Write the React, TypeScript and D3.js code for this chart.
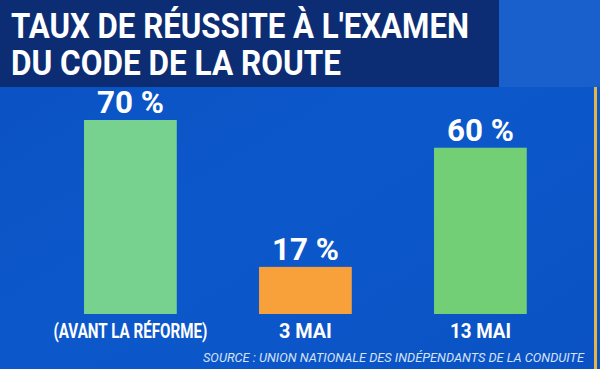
import { useEffect, useRef } from "react";
import * as d3 from "d3";

const categories = ["(AVANT LA RÉFORME)", "3 MAI", "13 MAI"];
const values = [70, 17, 60];
const barColors = ["#78d28f", "#f8a03a", "#72cf76"];
const titleLines = ["TAUX DE RÉUSSITE À L'EXAMEN", "DU CODE DE LA ROUTE"];
const source = "SOURCE : UNION NATIONALE DES INDÉPENDANTS DE LA CONDUITE";

// the original uses a condensed face; squeeze the installed font to the measured widths
const titleWidths = [458, 330];
const catWidths = [154, 53, 61];
const valueWidth = 67;
const sourceWidth = 381;

const App = () => {
  const svgRef = useRef<SVGSVGElement | null>(null);

  useEffect(() => {
    document.body.style.margin = "0";
    drawChart();
  }, []);

  const drawChart = () => {
    const w = 600;
    const h = 369;
    const font = "Roboto, 'Liberation Sans', sans-serif";

    const svg = d3.select(svgRef.current).attr("width", w).attr("height", h);
    svg.selectAll("*").remove();

    // background
    const defs = svg.append("defs");
    const grad = defs
      .append("linearGradient")
      .attr("id", "bg")
      .attr("x1", "0")
      .attr("y1", "0")
      .attr("x2", "1")
      .attr("y2", "1");
    grad.append("stop").attr("offset", "0").attr("stop-color", "#0b51c2");
    grad.append("stop").attr("offset", "0.5").attr("stop-color", "#0c58cb");
    grad.append("stop").attr("offset", "1").attr("stop-color", "#0a52c4");
    svg.append("rect").attr("width", w).attr("height", h).attr("fill", "url(#bg)");

    // lighter strip right of the title
    svg.append("rect").attr("x", 499).attr("y", 0).attr("width", 101).attr("height", 87).attr("fill", "#1a60cc");

    // title box
    svg.append("rect").attr("x", 0).attr("y", 0).attr("width", 499).attr("height", 87).attr("fill", "#0c2d74");
    svg
      .selectAll(".title")
      .data(titleLines)
      .join("text")
      .attr("x", 11)
      .attr("y", (d, i) => 38 + i * 37)
      .attr("fill", "#ffffff")
      .attr("font-family", font)
      .attr("font-weight", "bold")
      .attr("font-size", 35)
      .attr("textLength", (d, i) => titleWidths[i])
      .attr("lengthAdjust", "spacingAndGlyphs")
      .text((d) => d);

    // gold edge on the right
    svg.append("rect").attr("x", 594).attr("y", 87).attr("width", 3).attr("height", h - 87).attr("fill", "#e3b64a");

    // scales
    const xScale = d3
      .scaleBand()
      .domain(categories)
      .range([42.9, 567.9])
      .paddingInner(0.47)
      .paddingOuter(0.235);
    const yScale = d3.scaleLinear().domain([0, 70]).range([314, 120]);

    const data = categories.map((c, i) => ({ cat: c, val: values[i], color: barColors[i], lw: catWidths[i] }));
    const cx = (d: any) => xScale(d.cat)! + xScale.bandwidth() / 2;

    svg
      .selectAll(".bar")
      .data(data)
      .join("rect")
      .attr("x", (d) => xScale(d.cat)!)
      .attr("y", (d) => yScale(d.val))
      .attr("width", xScale.bandwidth())
      .attr("height", (d) => yScale(0) - yScale(d.val))
      .attr("fill", (d) => d.color);

    // value labels
    svg
      .selectAll(".val")
      .data(data)
      .join("text")
      .attr("x", (d) => cx(d) - valueWidth / 2)
      .attr("y", (d) => yScale(d.val) - 7)
      .attr("fill", "#ffffff")
      .attr("font-family", font)
      .attr("font-weight", "bold")
      .attr("font-size", 32)
      .attr("textLength", valueWidth)
      .attr("lengthAdjust", "spacingAndGlyphs")
      .text((d) => `${d.val} %`);

    // category labels
    svg
      .selectAll(".cat")
      .data(data)
      .join("text")
      .attr("x", (d) => cx(d) - d.lw / 2)
      .attr("y", 338)
      .attr("fill", "#ffffff")
      .attr("font-family", font)
      .attr("font-weight", "bold")
      .attr("font-size", 20)
      .attr("textLength", (d) => d.lw)
      .attr("lengthAdjust", "spacingAndGlyphs")
      .text((d) => d.cat);

    // source
    svg
      .append("text")
      .attr("x", 584 - sourceWidth)
      .attr("y", 362)
      .attr("fill", "#d4e2f6")
      .attr("font-family", font)
      .attr("font-style", "italic")
      .attr("font-size", 13)
      .attr("textLength", sourceWidth)
      .attr("lengthAdjust", "spacingAndGlyphs")
      .text(source);
  };

  return (
    <div id="container">
      <svg ref={svgRef} style={{ display: "block" }}></svg>
    </div>
  );
};

export default App;
